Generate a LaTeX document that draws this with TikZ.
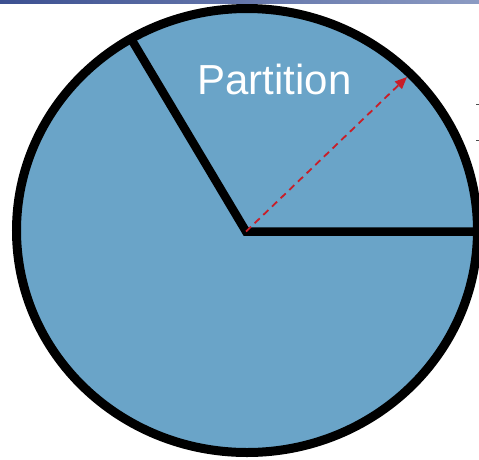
\documentclass[tikz,border=0pt]{standalone}
\usepackage{fontspec}
\setmainfont{Liberation Sans}
\usetikzlibrary{arrows.meta}
\definecolor{pie}{RGB}{106,164,200}
\definecolor{arr}{RGB}{200,30,40}
\definecolor{barL}{RGB}{60,80,145}
\definecolor{barR}{RGB}{140,155,195}
\begin{document}
\begin{tikzpicture}[x=1pt,y=-1pt,
  disk/.style={draw=black, line width=9pt, fill=pie},
  spoke/.style={line width=8.5pt, line join=miter},
  radius/.style={draw=arr, dash pattern=on 7pt off 5pt, line width=1.8pt, -{Triangle[length=12pt,width=10pt]}},
  label/.style={text=white, font=\fontsize{42}{50}\selectfont, inner sep=0pt, anchor=base},
  tick/.style={draw=black!70, line width=1pt}]
\useasboundingbox (0,0) rectangle (479,459);
\shade[left color=barL, right color=barR] (0,0) rectangle (479,3);
\coordinate (o) at (247,230.5);
\draw[disk] (o) ellipse [x radius=230.5, y radius=222];
\coordinate (c) at (246,231.5);
\coordinate (e1) at (130,37);
\coordinate (e2) at (479,231.5);
\draw[spoke] (e1) -- (c) -- (e2);
\coordinate (tip) at (407,77);
\draw[radius] (c) -- (tip);
\node[label] (lbl) at (274.5,94) {Partition};
\coordinate (t1a) at (476,104.5); \coordinate (t1b) at (479,104.5);
\coordinate (t2a) at (476,140.5); \coordinate (t2b) at (479,140.5);
\draw[tick] (t1a) -- (t1b);
\draw[tick] (t2a) -- (t2b);
\end{tikzpicture}
\end{document}
